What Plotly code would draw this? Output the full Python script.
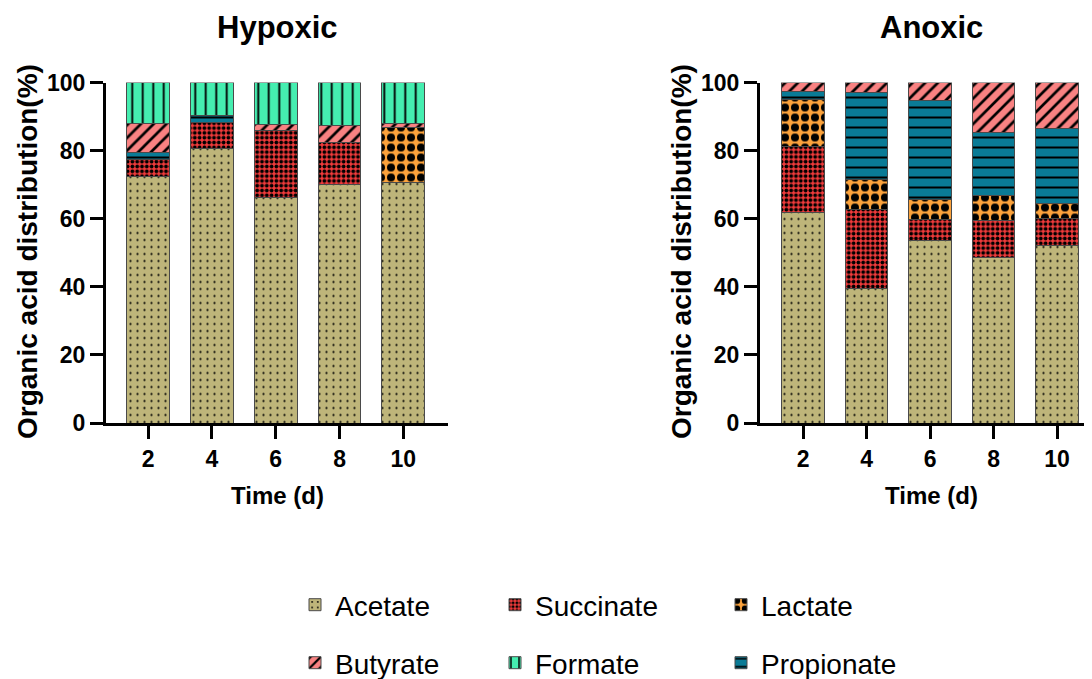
import plotly.graph_objects as go

# ---------------- data ----------------
days = ["2", "4", "6", "8", "10"]
series = ["Acetate", "Succinate", "Lactate", "Propionate", "Butyrate", "Formate"]

hyp_acetate = [72.5, 80.7, 66.3, 70.1, 70.7]
hyp_succinate = [4.9, 7.5, 19.7, 12.3, 0.0]
hyp_lactate = [0.0, 0.0, 0.0, 0.0, 16.1]
hyp_propionate = [2.0, 2.0, 0.0, 0.0, 0.0]
hyp_butyrate = [8.6, 0.0, 1.7, 5.0, 1.2]
hyp_formate = [12.0, 9.8, 12.3, 12.6, 12.0]

ano_acetate = [61.9, 39.6, 53.7, 48.7, 52.0]
ano_succinate = [19.2, 23.0, 6.2, 10.9, 8.1]
ano_lactate = [14.0, 9.0, 5.8, 7.1, 4.4]
ano_propionate = [2.4, 25.4, 28.9, 18.7, 22.0]
ano_butyrate = [2.5, 3.0, 5.4, 14.6, 13.5]
ano_formate = [0.0, 0.0, 0.0, 0.0, 0.0]

panel_titles = ["Hypoxic", "Anoxic"]
x_title = "Time (d)"
y_title = "Organic acid distribution(%)"
y_ticks = [0, 20, 40, 60, 80, 100]

# ---------------- styles ----------------
OFF = 8                      # page body margin
W, H = 1092 - OFF, 679 - OFF
FONT = "Liberation Sans, Arial, Helvetica, sans-serif"

styles = {
    "Acetate": dict(color="#BEB57A", shape=".", size=7, solidity=0.08),
    "Succinate": dict(color="#F23B3B", shape=".", size=4.8, solidity=0.5),
    "Lactate": dict(color="#FBA23C", shape=".", size=10, solidity=0.5),
    "Propionate": dict(color="#0A7B96", shape="-", size=10, solidity=0.2),
    "Butyrate": dict(color="#F98282", shape="/", size=9, solidity=0.3),
    "Formate": dict(color="#45EEB0", shape="|", size=10.5, solidity=0.18),
}
legend_of = {
    "Acetate": "legend", "Succinate": "legend2", "Lactate": "legend3",
    "Butyrate": "legend4", "Formate": "legend5", "Propionate": "legend6",
}

hyp = {"Acetate": hyp_acetate, "Succinate": hyp_succinate, "Lactate": hyp_lactate,
       "Propionate": hyp_propionate, "Butyrate": hyp_butyrate, "Formate": hyp_formate}
ano = {"Acetate": ano_acetate, "Succinate": ano_succinate, "Lactate": ano_lactate,
       "Propionate": ano_propionate, "Butyrate": ano_butyrate, "Formate": ano_formate}

fig = go.Figure()
for panel, (data, xa, ya) in enumerate([(hyp, "x", "y"), (ano, "x2", "y2")]):
    for name in series:
        st = styles[name]
        vals = [v if v > 0 else None for v in data[name]]
        fig.add_trace(go.Bar(
            x=days, y=vals, name=name, xaxis=xa, yaxis=ya,
            width=0.67, legendgroup=name, showlegend=(panel == 0),
            legend=legend_of[name], cliponaxis=False,
            marker=dict(
                color=st["color"],
                line=dict(color="#4a4a4a", width=1),
                pattern=dict(shape=st["shape"], fgcolor="black", bgcolor=st["color"],
                             size=st["size"], solidity=st["solidity"], fillmode="replace"),
            ),
        ))

def px_x(p):
    return (p - OFF) / W

def px_y(p):
    return 1 - (p - OFF) / H

y_dom = [px_y(423), px_y(82.5)]
axis_common = dict(showline=True, linecolor="black", linewidth=3, ticks="outside",
                   tickwidth=3, tickcolor="black", showgrid=False, zeroline=False,
                   tickfont=dict(family=FONT, size=23, color="black", weight="bold"))

fig.update_layout(
    width=W, height=H, barmode="stack", bargap=0.33,
    paper_bgcolor="white", plot_bgcolor="white",
    margin=dict(l=0, r=0, t=0, b=0, pad=0, autoexpand=False),
    font=dict(family=FONT, color="black"),
    xaxis=dict(domain=[px_x(106), px_x(448)], anchor="y", type="category",
               range=[-0.66, 4.7], ticklen=13, **axis_common),
    yaxis=dict(domain=y_dom, anchor="x", range=[0, 100], tickvals=y_ticks,
               ticklen=13, **axis_common),
    xaxis2=dict(domain=[px_x(760), 1.0], anchor="y2", type="category",
                range=[-0.68, 4.55], ticklen=13, **axis_common),
    yaxis2=dict(domain=y_dom, anchor="x2", range=[0, 100], tickvals=y_ticks,
                ticklen=13, **axis_common),
)

# legends: one per entry, arranged in two rows of three
leg_font = dict(family=FONT, size=28, color="black")
text_x = {"Acetate": 336, "Succinate": 536, "Lactate": 762,
          "Butyrate": 336, "Formate": 536, "Propionate": 762}
row_y = {"Acetate": 605, "Succinate": 605, "Lactate": 605,
         "Butyrate": 663, "Formate": 663, "Propionate": 663}
for name, lg in legend_of.items():
    fig.update_layout({lg: dict(x=px_x(text_x[name] - 41), y=px_y(row_y[name]),
                                xanchor="left", yanchor="middle", orientation="h",
                                bgcolor="rgba(0,0,0,0)", font=leg_font)})

# titles
ann = []
for cx, yax, title in [(277, 106, panel_titles[0]), (931, 760, panel_titles[1])]:
    ann.append(dict(text=title, x=px_x(cx), y=px_y(27), xref="paper", yref="paper",
                    showarrow=False, xanchor="center", yanchor="middle",
                    font=dict(family=FONT, size=31, color="black", weight="bold")))
    ann.append(dict(text=x_title, x=px_x(cx), y=px_y(495), xref="paper", yref="paper",
                    showarrow=False, xanchor="center", yanchor="middle",
                    font=dict(family=FONT, size=24, color="black", weight="bold")))
    ann.append(dict(text=y_title, x=px_x(yax - 79), y=px_y(252), xref="paper", yref="paper",
                    showarrow=False, xanchor="center", yanchor="middle", textangle=-90,
                    font=dict(family=FONT, size=28, color="black", weight="bold")))
fig.update_layout(annotations=ann)

fig.write_html("out.html")
